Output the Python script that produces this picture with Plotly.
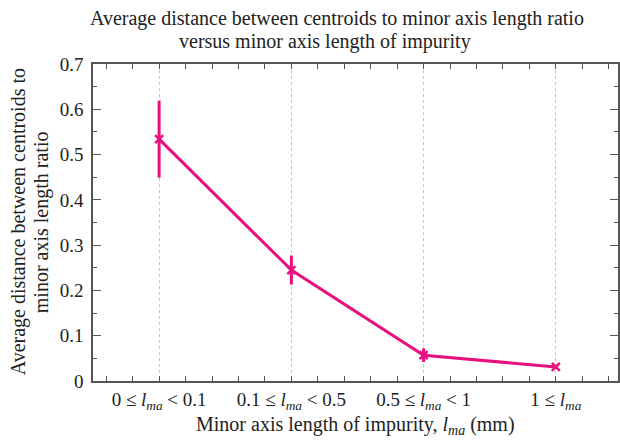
import plotly.graph_objects as go

categories = ["0 ≤ <i>l</i><sub><i>ma</i></sub> &lt; 0.1",
              "0.1 ≤ <i>l</i><sub><i>ma</i></sub> &lt; 0.5",
              "0.5 ≤ <i>l</i><sub><i>ma</i></sub> &lt; 1",
              "1 ≤ <i>l</i><sub><i>ma</i></sub>"]
values = [0.534, 0.245, 0.057, 0.031]
errors = [0.085, 0.032, 0.015, 0.004]
positions = [0, 1, 2, 3]

title_lines = ["Average distance between centroids to minor axis length ratio",
               "versus minor axis length of impurity"]
ytitle_lines = ["Average distance between centroids to",
                "minor axis length ratio"]
xtitle = "Minor axis length of impurity, <i>l</i><sub><i>ma</i></sub> (mm)"

color = "#E8107E"
font = "Liberation Serif, Times New Roman, serif"
txt = "#222"

W, H = 620, 441
ML, MR, MT, MB = 93, 0, 64, 60


def px2paper(px, py):
    return (px - ML) / (W - ML - MR), (H - MB - py) / (H - MT - MB)


fig = go.Figure()
fig.add_trace(go.Scatter(
    x=positions, y=values, mode="lines+markers",
    line=dict(color=color, width=3),
    marker=dict(symbol="x-thin", size=8, line=dict(color=color, width=2.5)),
    error_y=dict(type="data", array=errors, color=color, thickness=3, width=0),
    showlegend=False,
))

annots = []
for (px, py), t in zip([(338, 18), (326, 41)], title_lines):
    x, y = px2paper(px, py)
    annots.append(dict(text=t, x=x, y=y, xref="paper", yref="paper", showarrow=False,
                       xanchor="center", yanchor="middle",
                       font=dict(size=20, family=font, color=txt)))
for (px, py), t in zip([(18, 222), (41, 222)], ytitle_lines):
    x, y = px2paper(px, py)
    annots.append(dict(text=t, x=x, y=y, xref="paper", yref="paper", showarrow=False,
                       textangle=-90, xanchor="center", yanchor="middle",
                       font=dict(size=20, family=font, color=txt)))
x, y = px2paper(357, 425)
annots.append(dict(text=xtitle, x=x, y=y, xref="paper", yref="paper", showarrow=False,
                   xanchor="center", yanchor="middle",
                   font=dict(size=20, family=font, color=txt)))

fig.update_layout(
    width=W, height=H,
    margin=dict(l=ML, r=MR, t=MT, b=MB),
    paper_bgcolor="white", plot_bgcolor="white",
    font=dict(family=font, size=19, color=txt),
    annotations=annots,
)

fig.update_xaxes(
    range=[-0.5, 3.47],
    tickmode="array", tickvals=positions, ticktext=categories,
    ticks="inside", ticklen=5, tickcolor="#555", tickwidth=1,
    showline=True, linecolor="#555", linewidth=1.5, mirror="ticks",
    showgrid=True, gridcolor="#c4c4c4", griddash="dot", gridwidth=1,
    minor=dict(dtick=0.2, tick0=0, ticks="inside", ticklen=5, tickcolor="#555", showgrid=False),
    tickfont=dict(size=19, family=font, color=txt),
    ticklabelstandoff=0,
    zeroline=False,
)
fig.update_yaxes(
    range=[0, 0.7], dtick=0.1, tickformat="~g",
    ticks="inside", ticklen=8, tickcolor="#555", tickwidth=1,
    showline=True, linecolor="#555", linewidth=1.5, mirror="ticks",
    showgrid=False, zeroline=False,
    minor=dict(dtick=0.05, ticks="inside", ticklen=4, tickcolor="#555", showgrid=False),
    tickfont=dict(size=19, family=font, color=txt),
    ticklabelstandoff=4,
)

fig.write_html("out.html")
